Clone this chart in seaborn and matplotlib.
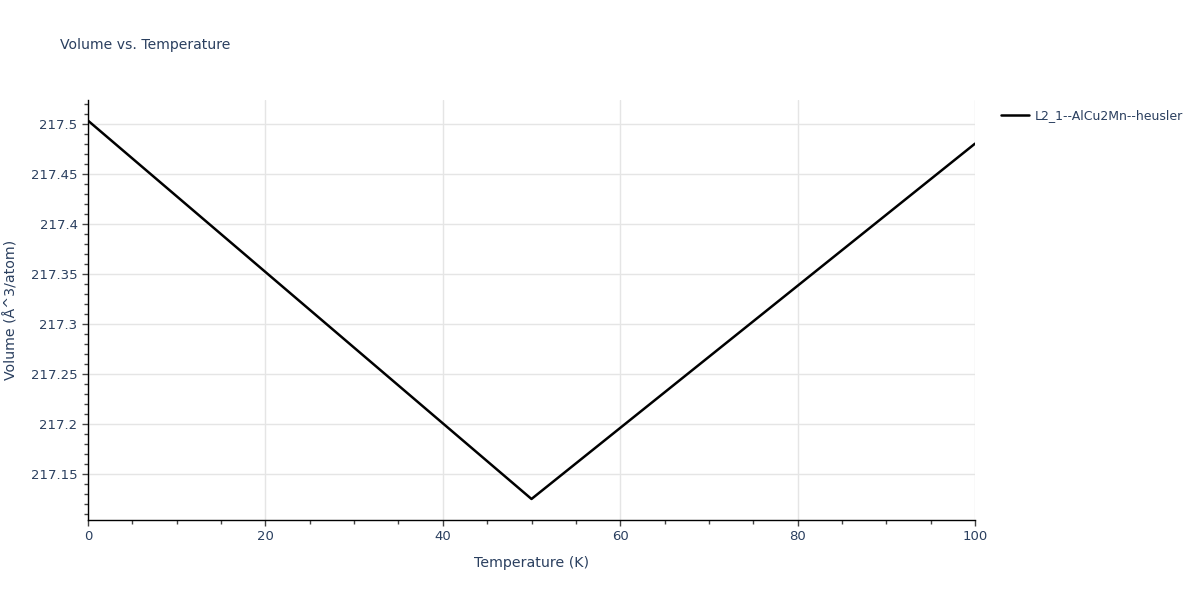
import matplotlib
matplotlib.use("Agg")
import matplotlib.pyplot as plt
import seaborn as sns
import pandas as pd
from matplotlib.ticker import MultipleLocator, FuncFormatter

temperature = [0, 50, 100]
volume = [217.503, 217.125, 217.480]
series_name = "L2_1--AlCu2Mn--heusler"

sns.set_theme(style="white")
plt.rcParams['font.family'] = ['DejaVu Sans']
txt = "#2a3f5f"

df = pd.DataFrame({"Temperature": temperature, "Volume": volume, "series": series_name})

fig = plt.figure(figsize=(12, 6), dpi=100)
ax = fig.add_axes([88/1200, 1 - 520/600, (975 - 88)/1200, (520 - 100)/600])
sns.lineplot(data=df, x="Temperature", y="Volume", hue="series", palette=["black"],
             linewidth=1.8, ax=ax, legend=True)

ax.set_xlim(0, 100)
ax.set_ylim(217.104, 217.5236)
ax.xaxis.set_major_locator(MultipleLocator(20))
ax.xaxis.set_minor_locator(MultipleLocator(5))
ax.yaxis.set_major_locator(MultipleLocator(0.05))
ax.yaxis.set_minor_locator(MultipleLocator(0.01))
ax.yaxis.set_major_formatter(FuncFormatter(lambda v, p: "%g" % round(v, 4)))
ax.xaxis.set_major_formatter(FuncFormatter(lambda v, p: "%g" % v))

ax.grid(True, which="major", color="#e5e5e5", linewidth=1)
for gl in ax.get_xgridlines():
    gl.set_clip_on(True)
ax.set_axisbelow(True)
for s in ["top", "right"]:
    ax.spines[s].set_visible(False)
for s in ["left", "bottom"]:
    ax.spines[s].set_color("black")
    ax.spines[s].set_linewidth(1)
ax.tick_params(which="both", direction="out", length=4, width=1, color="#444444",
               labelcolor=txt, labelsize=9.5, left=True, bottom=True)
ax.tick_params(which="minor", length=3)

ax.set_xlabel("Temperature (K)", fontsize=10.2, color=txt, labelpad=9)
ax.set_ylabel("Volume (Å^3/atom)", fontsize=10.2, color=txt, labelpad=9)

fig.text(60/1200, 1 - 45/600, "Volume vs. Temperature", fontsize=10.1, color=txt, va="center")

h, l = ax.get_legend_handles_labels()
ax.get_legend().remove()
leg = fig.legend(h, l, loc="upper left", bbox_to_anchor=(990/1200, 1 - 98/600),
                 frameon=False, fontsize=9, handlelength=2.2, handletextpad=0.5)
for t in leg.get_texts():
    t.set_color(txt)

fig.savefig("out.png", dpi=100)
